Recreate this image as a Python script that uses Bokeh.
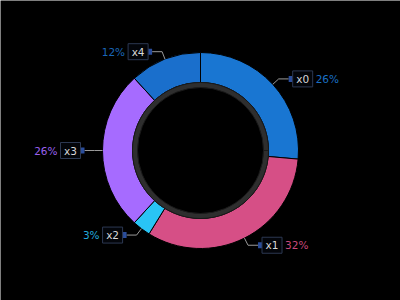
import math
from bokeh.plotting import figure
from bokeh.models import Range1d, ColumnDataSource
from bokeh.core.properties import value
from bokeh.embed import file_html
from bokeh.resources import INLINE

names = ["x0", "x1", "x2", "x3", "x4"]
values = [26.4, 32.4, 3.0, 26.4, 11.8]
slice_colors = ["#1976d2", "#d64f86", "#29c4f5", "#a66bff", "#1a6fcc"]
text_colors = ["#1a6fc4", "#c8497b", "#22a9dc", "#9a60ee", "#1a66b8"]

W, H = 400, 300
cx, cy = 200, 150
r_out, r_in = 98, 68
ring_in = 63

p = figure(width=W, height=H, x_range=Range1d(0, W), y_range=Range1d(0, H),
           output_backend="svg", toolbar_location=None, min_border=0,
           background_fill_color="#000000", border_fill_color="#000000")
p.axis.visible = False
p.grid.visible = False
p.outline_line_color = None

total = sum(values)
starts, ends, mids = [], [], []
cum = 0.0
for v in values:
    a0 = 90 - cum / total * 360
    cum += v
    a1 = 90 - cum / total * 360
    starts.append(math.radians(a0))
    ends.append(math.radians(a1))
    mids.append(math.radians((a0 + a1) / 2))

src = ColumnDataSource(dict(x=[cx] * len(values), y=[cy] * len(values),
                            s=starts, e=ends, c=slice_colors))
p.annular_wedge(x="x", y="y", inner_radius=r_in, outer_radius=r_out,
                start_angle="s", end_angle="e", direction="clock",
                fill_color="c", line_color="#000000", line_width=1, source=src)

# inner grey ring
p.annular_wedge(x=cx, y=cy, inner_radius=ring_in, outer_radius=r_in, start_angle=0,
                end_angle=2 * math.pi, fill_color="#2e2e2e", line_color="#1a1a1a", line_width=1)

font = value("DejaVu Sans")
for i, name in enumerate(names):
    m = mids[i]
    ax, ay = cx + r_out * math.cos(m), cy + r_out * math.sin(m)
    ex, ey = cx + 106 * math.cos(m), cy + 106 * math.sin(m)
    side = 1 if math.cos(m) >= 0 else -1
    hx = ex + side * 10
    p.line([ax, ex, hx], [ay, ey, ey], line_color="#9a9a9a", line_width=1)
    mx = hx + side * 2
    p.rect(x=mx, y=ey, width=4, height=6, fill_color="#2a4d9b", line_color=None)
    bx = mx + side * 12
    p.rect(x=bx, y=ey, width=20, height=16, fill_color="#03050a", line_color="#2c3852", line_width=1)
    p.text(x=[bx], y=[ey], text=[name], text_align="center", text_baseline="middle",
           text_font=font, text_font_size="10.5px", text_color="#d8d8d8")
    pct = f"{round(values[i] / total * 100)}%"
    tx = bx + side * 13
    p.text(x=[tx], y=[ey], text=[pct], text_align="left" if side > 0 else "right",
           text_baseline="middle", text_font=font, text_font_size="10.5px",
           text_color=text_colors[i])

open("out.html", "w").write(file_html(p, INLINE))
